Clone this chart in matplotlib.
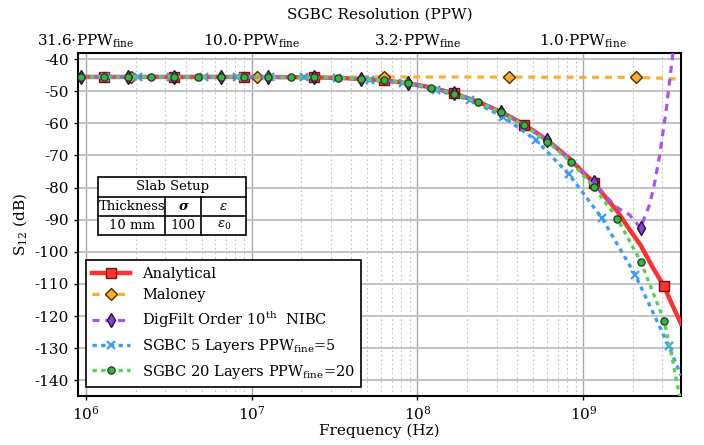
import matplotlib
matplotlib.use("Agg")
import matplotlib.pyplot as plt
from matplotlib.patches import Rectangle
from matplotlib.lines import Line2D
from matplotlib.ticker import FixedLocator, NullLocator

plt.rcParams.update({
    "font.family": "DejaVu Serif",
    "mathtext.fontset": "dejavuserif",
    "axes.unicode_minus": False,
})

# ---------------- data ----------------
# Analytical transmission through the slab
freq_analytical = [9.376e5, 1.296e6, 1.792e6, 2.476e6, 3.422e6, 4.732e6, 6.540e6,
                   9.042e6, 1.250e7, 1.728e7, 2.388e7, 3.301e7, 4.563e7, 6.307e7,
                   8.718e7, 1.205e8, 1.666e8, 2.303e8, 3.183e8, 3.742e8, 4.400e8,
                   5.172e8, 6.081e8, 7.150e8, 8.406e8, 9.883e8, 1.162e9, 1.366e9,
                   1.606e9, 1.889e9, 2.220e9, 2.611e9, 3.069e9, 3.446e9, 3.882e9]
s12_analytical = [-45.55, -45.55, -45.55, -45.55, -45.55, -45.56, -45.56,
                  -45.57, -45.59, -45.63, -45.70, -45.85, -46.15, -46.65,
                  -47.5, -48.8, -50.7, -53.2, -56.45, -58.35, -60.4,
                  -62.8, -65.3, -68.3, -71.3, -75.1, -78.5, -83.1,
                  -87.4, -92.9, -98.0, -104.7, -110.8, -116.6, -122.4]

# Maloney model
freq_maloney = [9.376e5, 1.875e6, 1.076e7, 6.266e7, 3.548e8, 2.065e9, 3.0e9, 3.882e9]
s12_maloney = [-45.55, -45.55, -45.55, -45.55, -45.6, -45.7, -45.95, -46.3]

# Digital filter, 10th order NIBC
freq_digfilt = [9.376e5, 1.296e6, 1.792e6, 2.476e6, 3.422e6, 4.732e6, 6.540e6,
                9.042e6, 1.250e7, 1.728e7, 2.388e7, 3.301e7, 4.563e7, 6.307e7,
                8.718e7, 1.205e8, 1.666e8, 2.303e8, 3.183e8, 4.400e8, 6.081e8,
                8.406e8, 1.162e9, 1.366e9, 1.606e9, 1.901e9, 2.220e9, 2.344e9,
                2.512e9, 2.692e9, 2.884e9, 3.162e9, 3.508e9]
s12_digfilt = [-45.55, -45.55, -45.55, -45.55, -45.55, -45.56, -45.56,
               -45.57, -45.59, -45.63, -45.70, -45.85, -46.15, -46.65,
               -47.5, -48.8, -50.7, -53.2, -56.45, -60.4, -65.3,
               -71.3, -78.4, -82.7, -86.3, -88.5, -92.6, -89.2,
               -85.3, -78.5, -70.0, -55.8, -36.0]

# SGBC, 5 layers
freq_sgbc5 = [9.376e5, 1.300e6, 2.061e6, 3.266e6, 5.176e6, 8.204e6, 1.300e7,
              2.061e7, 3.266e7, 5.176e7, 8.204e7, 1.300e8, 2.061e8, 3.266e8,
              5.176e8, 8.204e8, 1.300e9, 2.061e9, 3.266e9, 3.882e9]
s12_sgbc5 = [-45.55, -45.55, -45.55, -45.55, -45.56, -45.57, -45.60,
             -45.67, -45.86, -46.4, -47.4, -49.6, -52.7, -57.9,
             -65.2, -75.9, -89.6, -107.3, -129.2, -138.5]

# SGBC, 20 layers
freq_sgbc20 = [9.376e5, 1.296e6, 1.792e6, 2.476e6, 3.422e6, 4.732e6, 6.540e6,
               9.042e6, 1.250e7, 1.728e7, 2.388e7, 3.301e7, 4.563e7, 6.307e7,
               8.718e7, 1.205e8, 1.666e8, 2.303e8, 3.183e8, 4.400e8, 6.081e8,
               8.406e8, 1.162e9, 1.606e9, 2.220e9, 3.069e9, 3.388e9, 3.758e9,
               3.882e9]
s12_sgbc20 = [-45.55, -45.55, -45.55, -45.55, -45.55, -45.56, -45.56,
              -45.57, -45.59, -45.63, -45.70, -45.85, -46.15, -46.65,
              -47.5, -48.9, -50.75, -53.25, -56.6, -60.6, -65.7,
              -72.0, -79.9, -89.7, -103.1, -121.4, -131.5, -143.6,
              -147.0]

# top axis: resolution in points per wavelength
ppw_tick_freq = [1e6, 1e7, 1e8, 1e9]
ppw_values = [31.6, 10.0, 3.2, 1.0]

# slab parameters table
table_header = "Slab Setup"
table_cols = ["Thickness", "σ", "ε"]
table_vals = ["10 mm", "100", r"$\varepsilon_0$"]

# ---------------- figure ----------------
fig = plt.figure(figsize=(7.04, 4.45), dpi=100)
ax = fig.add_axes([0.1108, 0.1101, 0.8565, 0.7708])
ax.set_xscale("log")
ax.set_xlim(8.99e5, 3.88e9)
ax.set_ylim(-144.9, -38.1)

ax.grid(which="major", axis="x", color="#a8a8a8", lw=1.0, ls="-", zorder=0)
ax.grid(which="major", axis="y", color="#c4c4c4", lw=1.5, ls="-", zorder=0)
ax.grid(which="minor", axis="x", color="#c0c0c0", lw=0.8, ls=(0, (1.5, 2.5)), zorder=0)
ax.set_axisbelow(True)

ax.plot(freq_analytical, s12_analytical, "-", color="#ff3030", lw=3.2,
        marker="s", ms=6.8, mfc="#ff3333", mec="#7a1010", mew=1.0,
        markevery=[1, 4, 7, 10, 13, 16, 20, 26, 32], label="Analytical", zorder=3)
ax.plot(freq_maloney, s12_maloney, ls=(0, (2.2, 1.8)), color="#ffae2e", lw=2.3,
        marker="D", ms=6.2, mfc="#ffab2b", mec="#4a3000", mew=1.0,
        markevery=[1, 2, 3, 4, 5], label="Maloney", zorder=4)
ax.plot(freq_digfilt, s12_digfilt, ls=(0, (2.2, 1.8)), color="#a855f0", lw=2.3,
        marker="d", ms=7, mfc="#9040d8", mec="#201030", mew=1.0,
        markevery=[0, 2, 4, 6, 8, 10, 12, 14, 16, 18, 20, 22, 26],
        label=r"DigFilt Order 10$^{\mathrm{th}}$  NIBC", zorder=5)
ax.plot(freq_sgbc5, s12_sgbc5, ls=(0, (1.3, 1.3)), color="#3d9cf5", lw=2.4,
        marker="x", ms=6, mec="#3d9cf5", mew=1.6,
        markevery=list(range(1, 19)),
        label=r"SGBC 5 Layers PPW$_{\mathrm{fine}}$=5", zorder=6)
ax.plot(freq_sgbc20, s12_sgbc20, ls=(0, (1.3, 1.3)), color="#52d652", lw=2.4,
        marker="o", ms=5.2, mfc="#3cb043", mec="#1c3c1c", mew=0.9,
        markevery=list(range(0, 26)),
        label=r"SGBC 20 Layers PPW$_{\mathrm{fine}}$=20", zorder=7)

for sp in ax.spines.values():
    sp.set_linewidth(1.5)
    sp.set_color("black")

ax.set_yticks(range(-140, -39, 10))
ax.tick_params(axis="both", which="major", labelsize=11, length=3, width=1.0)
ax.tick_params(axis="x", which="minor", length=0)
ax.tick_params(axis="x", which="major", pad=3)
ax.set_xlabel("Frequency (Hz)", fontsize=11, labelpad=1)
ax.set_ylabel(r"S$_{12}$ (dB)", fontsize=11, labelpad=4)

# secondary axis with PPW scale
ax2 = ax.twiny()
ax2.set_xscale("log")
ax2.set_xlim(ax.get_xlim())
ax2.xaxis.set_major_locator(FixedLocator(ppw_tick_freq))
ax2.xaxis.set_minor_locator(NullLocator())
ax2.set_xticklabels([r"%.1f$\cdot$PPW$_{\mathrm{fine}}$" % v for v in ppw_values])
ax2.tick_params(axis="x", length=0, pad=2.5, labelsize=11)
ax2.set_xlabel("SGBC Resolution (PPW)", fontsize=11, labelpad=10)
for sp in ax2.spines.values():
    sp.set_visible(False)

leg = ax.legend(loc="lower left", bbox_to_anchor=(0.013, 0.026), borderaxespad=0,
                fontsize=10.5, fancybox=False, framealpha=1.0, edgecolor="black",
                handlelength=2.6, labelspacing=0.5, borderpad=0.45, handletextpad=0.8)
leg.get_frame().set_linewidth(1.2)
leg.set_zorder(20)

# slab setup table (axes fraction coordinates)
x0, x1, x2, x3 = 0.0337, 0.1449, 0.2047, 0.2786
y0, y1, y2, y3 = 0.4694, 0.5248, 0.5810, 0.6394
tab_kw = dict(transform=ax.transAxes, zorder=21)
ax.add_patch(Rectangle((x0, y0), x3 - x0, y3 - y0, facecolor="white",
                       edgecolor="black", lw=1.2, **tab_kw))
for yy in (y1, y2):
    ax.add_line(Line2D([x0, x3], [yy, yy], color="black", lw=1.2, **tab_kw))
for xx in (x1, x2):
    ax.add_line(Line2D([xx, xx], [y0, y2], color="black", lw=1.2, **tab_kw))
txt_kw = dict(transform=ax.transAxes, ha="center", va="center", fontsize=9.5, zorder=22)
ax.text((x0 + x3) / 2, (y2 + y3) / 2, table_header, **txt_kw)
col_centers = [(x0 + x1) / 2, (x1 + x2) / 2, (x2 + x3) / 2]
col_styles = [dict(), dict(fontstyle="italic", fontweight="bold"), dict(fontstyle="italic")]
for cx, name, st in zip(col_centers, table_cols, col_styles):
    ax.text(cx, (y1 + y2) / 2, name, **txt_kw, **st)
for cx, val in zip(col_centers, table_vals):
    ax.text(cx, (y0 + y1) / 2, val, **txt_kw)

fig.savefig("out.png", dpi=100)
